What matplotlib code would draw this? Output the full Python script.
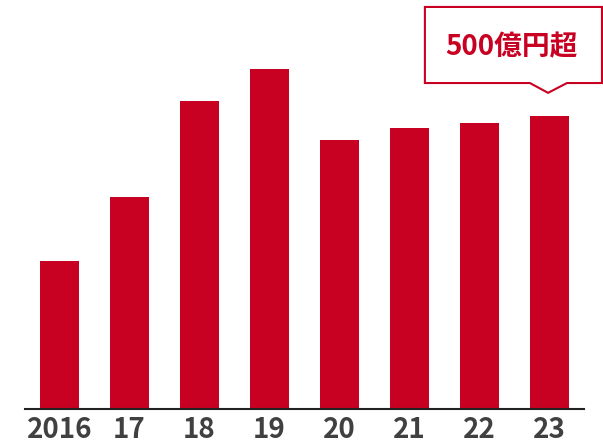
import matplotlib
matplotlib.use("Agg")
import matplotlib.pyplot as plt
from matplotlib.patches import Polygon
from matplotlib.transforms import blended_transform_factory

plt.rcParams['font.family'] = ['Noto Sans CJK JP', 'DejaVu Sans']

years = ['2016', '17', '18', '19', '20', '21', '22', '23']
# values in 億円 (no axis shown)
values = [258, 369, 536, 592, 468, 489, 498, 510]
callout = '500億円超'

red = '#C80021'

fig = plt.figure(figsize=(6.03, 4.44), dpi=100)
ax = fig.add_axes([25 / 603, 35 / 444, 559 / 603, 409 / 444])

x = list(range(len(years)))
ax.bar(x, values, width=0.557, color=red, zorder=2)
ax.set_xlim(-0.493, 7.493)
ax.set_ylim(0, 712)

ax.set_xticks(x)
ax.set_xticklabels(years, fontsize=20, fontweight='bold', color='#404040')
ax.tick_params(axis='x', length=0, pad=5)
ax.set_yticks([])
for s in ['top', 'left', 'right']:
    ax.spines[s].set_visible(False)
ax.spines['bottom'].set_color('#222222')
ax.spines['bottom'].set_linewidth(1.5)

# callout box pointing at the last bar
trans = blended_transform_factory(ax.transData, ax.transAxes)
tip = x[-1] - 0.02
box = [(5.22, 0.983), (7.75, 0.983), (7.75, 0.797), (tip + 0.27, 0.797),
       (tip, 0.773), (tip - 0.26, 0.797), (5.22, 0.797)]
ax.add_patch(Polygon(box, closed=True, facecolor='white', edgecolor=red,
                     linewidth=1.5, transform=trans, clip_on=False, zorder=3))
ax.text(6.45, 0.885, callout, transform=trans, ha='center', va='center',
        fontsize=20, fontweight='bold', color=red, zorder=4)

fig.savefig('out.png', dpi=100)
